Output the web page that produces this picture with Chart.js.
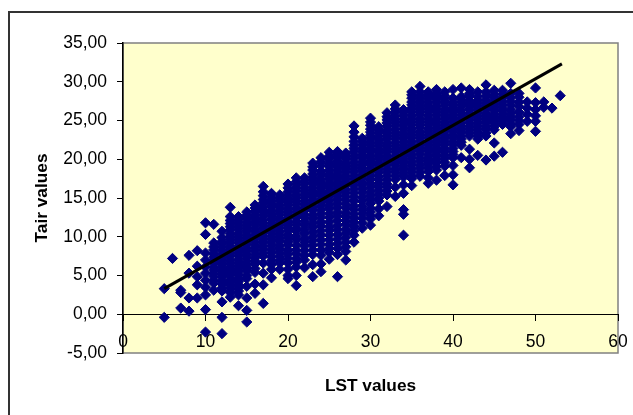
<!DOCTYPE html>
<html>
<head>
<meta charset="utf-8">
<style>
html,body{margin:0;padding:0;background:#fff;overflow:hidden}
#wrap{position:relative;width:633px;height:415px;overflow:hidden}
#frame{position:absolute;left:8px;top:11px;width:800px;height:600px;border-left:2px solid #333;border-top:2px solid #333;box-sizing:border-box}
canvas{position:absolute;left:0;top:0}
</style>
<script src="https://cdn.jsdelivr.net/npm/chart.js@4"></script>
</head>
<body>
<div id="wrap"><div id="frame"></div><canvas id="c" width="633" height="415"></canvas></div>
<script>
const lstValues = [5,6,7,8,9,10,11,12,13,14,15,16,17,18,19,20,21,22,23,24,25,26,27,28,29,30,31,32,33,34,35,36,37,38,39,40,41,42,43,44,45,46,47,48,49,50,51,52,53];
const tairAtLst = [
 [3.3,-0.4],
 [7.2],
 [3.1,2.8,0.8],
 [7.6,5.3,2.1,0.4],
 [8.2,6.2,4.85,3.8,2.1],
 [11.8,10.3,7.9,7.0,6.1,5.3,4.4,3.5,2.5,0.6,-2.3],
 [11.6,9.2,8.3,7.4,6.6,5.7,4.9,4.0,3.1],
 [10.7,9.9,9.0,8.2,7.3,6.5,5.6,4.8,3.9,3.0,1.6,-0.4,-2.5],
 [13.8,12.6,11.7,10.9,10.0,9.2,8.3,7.5,6.6,5.8,5.0,4.1,3.3,2.2],
 [12.6,11.8,11.0,10.1,9.3,8.4,7.6,6.7,5.9,5.1,4.2,3.4,2.5,1.1],
 [13.2,12.4,11.5,10.7,9.8,9.0,8.1,7.3,6.4,5.6,4.6,3.6,2.1,0.5,-1.0],
 [14.1,13.3,12.4,11.6,10.7,9.9,9.0,8.2,7.3,6.5,5.4,3.9,2.7],
 [16.5,15.3,14.4,13.5,12.7,11.8,11.0,10.1,9.3,8.4,7.5,6.6,5.3,3.8,1.4],
 [15.6,14.7,13.9,13.0,12.2,11.3,10.5,9.6,8.8,7.9,6.9,5.8,4.7],
 [15.4,14.6,13.7,12.9,12.0,11.2,10.3,9.5,8.5,7.5,6.6,5.8],
 [16.8,15.8,14.9,14.1,13.2,12.4,11.5,10.7,9.8,8.9,7.8,6.6,5.0,4.6],
 [17.6,16.7,15.9,15.0,14.2,13.3,12.5,11.6,10.7,9.6,8.3,7.2,6.1,5.0,3.7],
 [17.6,16.8,15.9,15.1,14.2,13.4,12.5,11.5,10.4,9.3,8.2,7.0,6.0],
 [19.5,18.6,17.7,16.9,16.0,15.2,14.3,13.4,12.3,11.2,10.0,8.9,7.7,6.4,4.85],
 [20.2,19.2,18.0,17.1,16.3,15.4,14.5,13.5,12.5,11.4,10.2,9.0,7.6,6.5,5.5],
 [20.9,20.0,19.1,18.2,17.4,16.5,15.6,14.6,13.6,12.5,11.3,10.2,9.0,8.0,7.1],
 [21.0,20.2,19.3,18.5,17.6,16.7,15.8,14.8,13.8,12.7,11.5,10.3,9.1,7.7,4.85],
 [20.8,20.0,19.1,18.3,17.4,16.6,15.7,14.7,13.7,12.6,11.6,10.5,9.3,8.1,7.0],
 [24.3,22.9,21.8,21.0,20.1,19.2,18.4,17.5,16.6,15.6,14.6,13.5,12.4,11.4,10.2,9.3],
 [22.7,21.9,21.0,20.2,19.3,18.5,17.6,16.7,15.7,14.6,13.5,12.4,11.1],
 [25.3,24.4,23.5,22.7,21.8,21.0,20.1,19.3,18.4,17.4,16.4,15.3,14.3,13.2,12.3,11.5],
 [24.2,23.4,22.5,21.7,20.8,20.0,19.1,18.3,17.4,16.5,15.5,14.6,13.6,12.7],
 [26.0,25.1,24.3,23.4,22.6,21.7,20.9,20.0,19.2,18.3,17.3,16.4,15.4,13.9],
 [27.0,26.1,25.2,24.4,23.5,22.7,21.8,21.0,20.1,19.3,18.4,17.4,16.4,15.2],
 [26.4,25.6,24.7,23.9,23.0,22.2,21.3,20.5,19.6,18.7,17.7,16.7,15.6,13.5,12.9,10.2],
 [28.7,27.9,27.0,26.2,25.3,24.5,23.6,22.8,21.9,21.1,20.2,19.3,18.4,17.5,16.6],
 [29.4,28.2,27.4,26.5,25.7,24.8,24.0,23.1,22.3,21.4,20.6,19.7,18.8,17.8],
 [28.7,27.9,27.0,26.2,25.3,24.5,23.6,22.8,21.9,21.1,20.2,19.4,18.4,17.6,16.9],
 [29.0,28.1,27.3,26.4,25.6,24.7,23.9,23.0,22.2,21.3,20.5,19.6,18.6,17.3],
 [28.7,27.8,27.0,26.1,25.3,24.4,23.6,22.7,21.9,21.0,20.1,19.1,17.9],
 [29.0,27.9,27.0,26.2,25.3,24.5,23.6,22.8,21.9,21.0,20.2,19.2,18.0,16.7],
 [29.2,27.7,26.9,26.0,25.2,24.3,23.5,22.6,21.8,20.2],
 [29.0,28.1,27.2,26.4,25.5,24.7,23.8,23.0,21.3,20.0,18.9],
 [28.7,27.6,26.8,25.9,25.1,24.2,23.4,22.6,20.5],
 [29.6,28.2,27.3,26.5,25.6,24.8,23.9,23.0,19.9],
 [28.9,28.0,27.1,26.3,25.4,24.6,23.8,22.1,20.4],
 [28.9,27.9,27.0,26.2,25.3,24.5,20.9],
 [29.8,28.0,27.0,25.9,25.1,24.2,23.3],
 [28.5,27.4,26.1,25.0,23.7],
 [27.4,26.6,25.8,24.9],
 [29.2,27.3,26.4,25.6,24.9,23.6],
 [27.4,26.7],
 [26.6],
 [28.2]
];
const denseLst = [11,12,13,14,15,16,17,18,19,20,21,22,23,24,25,26,27,28,29,30,31,32,33,34,35,36,37,38,39,40,41,42,43,44,45,46,47,48];
const denseTair = [
 [8.7,7.8,7.0,6.1,5.3,4.4],
 [9.4,8.6,7.7,6.9,6.0,5.2,4.3,3.4],
 [12.1,11.3,10.4,9.6,8.7,7.9,7.0,6.2,5.4,4.5,3.7,2.8],
 [12.2,11.4,10.5,9.7,8.8,8.0,7.1,6.3,5.5,4.6,3.8,3.0],
 [12.8,11.9,11.1,10.2,9.4,8.5,7.7,6.8,6.0,5.0],
 [13.7,12.8,12.0,11.1,10.3,9.4,8.6,7.7,6.9,5.9],
 [15.8,14.8,13.9,13.1,12.2,11.4,10.5,9.7,8.8,7.9],
 [15.1,14.3,13.4,12.6,11.7,10.9,10.0,9.2,8.3,7.4,6.4],
 [15.0,14.1,13.3,12.4,11.6,10.7,9.9,8.9,8.0,7.0],
 [16.3,15.3,14.5,13.6,12.8,11.9,11.1,10.2,9.3,8.3,7.2,5.8],
 [17.1,16.3,15.4,14.6,13.7,12.9,12.0,11.1,10.1,8.9,7.8,6.7],
 [17.2,16.3,15.5,14.6,13.8,12.9,12.0,10.9,9.8,8.8,7.6],
 [19.0,18.1,17.3,16.4,15.6,14.7,13.8,12.8,11.7,10.6,9.5,8.3],
 [19.7,18.5,17.5,16.7,15.8,14.9,14.0,13.0,11.9,10.8,9.6,8.3],
 [20.4,19.5,18.6,17.8,16.9,16.0,15.1,14.1,13.0,11.9,10.8,9.6,8.5],
 [20.6,19.7,18.9,18.0,17.1,16.2,15.3,14.3,13.2,12.1,10.9,9.7,8.5],
 [20.4,19.5,18.7,17.8,17.0,16.1,15.2,14.2,13.1,12.1,11.0,9.9,8.7],
 [23.5,22.3,21.4,20.5,19.6,18.8,17.9,17.0,16.1,15.1,14.0,12.9,11.9,10.8],
 [22.3,21.4,20.6,19.7,18.9,18.0,17.1,16.2,15.1,14.0,13.0,11.8],
 [24.8,23.9,23.1,22.2,21.4,20.5,19.7,18.8,17.9,16.9,15.8,14.8,13.7,12.7],
 [23.8,22.9,22.1,21.2,20.4,19.5,18.7,17.8,16.9,16.0,15.0],
 [25.5,24.7,23.8,23.0,22.1,21.3,20.4,19.6,18.7,17.8,16.8,15.9],
 [26.5,25.6,24.8,23.9,23.1,22.2,21.4,20.5,19.7,18.8,17.9],
 [26.0,25.1,24.3,23.4,22.6,21.7,20.9,20.0,19.1,18.2],
 [28.3,27.4,26.6,25.7,24.9,24.0,23.2,22.3,21.5,20.6,19.7,18.8,17.9],
 [28.7,27.8,26.9,26.1,25.2,24.4,23.5,22.7,21.8,21.0,20.1,19.2,18.3],
 [28.3,27.4,26.6,25.7,24.9,24.0,23.2,22.3,21.5,20.6,19.8,18.9],
 [28.5,27.7,26.8,26.0,25.1,24.3,23.4,22.6,21.7,20.9,20.0,19.1],
 [28.2,27.4,26.5,25.7,24.8,24.0,23.1,22.3,21.4,20.5,19.6],
 [27.4,26.6,25.7,24.9,24.0,23.2,22.3,21.4,20.6],
 [28.1,27.3,26.4,25.6,24.7,23.9,23.0,22.2],
 [28.5,27.6,26.8,25.9,25.1,24.2,23.4],
 [28.1,27.2,26.3,25.5,24.6,23.8,23.0],
 [28.7,27.7,26.9,26.0,25.2,24.3,23.4],
 [28.4,27.5,26.7,25.8,25.0,24.2],
 [28.4,27.4,26.6,25.7,24.9],
 [28.5,27.5,26.4,25.5,24.6],
 [28.0,26.8,25.5,24.5]
];
const trendLst = [5,53.2];
const trendTair = [3.3,32.3];
const yTickStep = 5;
const xTickStep = 10;

const scatterPoints = [];
lstValues.forEach((x,i)=>tairAtLst[i].forEach(y=>scatterPoints.push({x,y})));
denseLst.forEach((x,i)=>denseTair[i].forEach(y=>scatterPoints.push({x,y})));
const trendPoints = trendLst.map((x,i)=>({x,y:trendTair[i]}));

const FONT = "'Liberation Sans', Arial, sans-serif";
const plotBg = {
  id:'plotBg',
  beforeDraw(c){
    const a=c.chartArea, g=c.ctx;
    g.save();
    g.fillStyle='#FFFFCC';
    g.fillRect(a.left,a.top,a.right-a.left,a.bottom-a.top);
    g.strokeStyle='#808080';
    g.lineWidth=1.5;
    g.strokeRect(a.left,a.top,a.right-a.left,a.bottom-a.top);
    g.restore();
  }
};
function zeroPad(s){s.paddingTop=0;s.paddingBottom=0;s.paddingLeft=0;s.paddingRight=0;}
new Chart(document.getElementById('c'),{
  type:'scatter',
  data:{datasets:[
    {label:'Trend',data:trendPoints,showLine:true,borderColor:'#000',borderWidth:3,pointRadius:0,fill:false,order:0},
    {label:'Tair',data:scatterPoints,pointStyle:'rectRot',pointRadius:5.1,pointHoverRadius:5.1,backgroundColor:'#000080',borderColor:'#000080',borderWidth:1,order:1}
  ]},
  plugins:[plotBg],
  options:{
    responsive:false,animation:false,
    layout:{padding:{left:0,top:43,right:15,bottom:62}},
    plugins:{legend:{display:false},tooltip:{enabled:false},title:{display:false}},
    scales:{
      x:{type:'linear',position:{y:0},min:0,max:60,
        afterFit(s){zeroPad(s);s.height=82;},
        grid:{drawOnChartArea:false,color:'#000',tickColor:'#000',tickLength:6,drawTicks:true},
        border:{color:'#000',width:1},
        ticks:{stepSize:xTickStep,maxRotation:0,autoSkip:false,padding:11,color:'#000',font:{family:FONT,size:17.5}},
        title:{display:true,text:'LST values',color:'#000',font:{family:FONT,size:17.3,weight:'bold'},padding:{top:0,bottom:0}}
      },
      y:{type:'linear',position:'left',min:-5,max:35,
        afterFit(s){zeroPad(s);s.width=123;},
        grid:{drawOnChartArea:false,color:'#000',tickColor:'#000',tickLength:6},
        border:{color:'#000',width:1.5},
        ticks:{stepSize:yTickStep,padding:10,color:'#000',font:{family:FONT,size:17.5},callback:v=>Number(v).toFixed(2).replace('.',',')},
        title:{display:true,text:'Tair values',color:'#000',font:{family:FONT,size:17.3,weight:'bold'},padding:{top:32,bottom:0}}
      }
    }
  }
});
</script>
</body>
</html>
